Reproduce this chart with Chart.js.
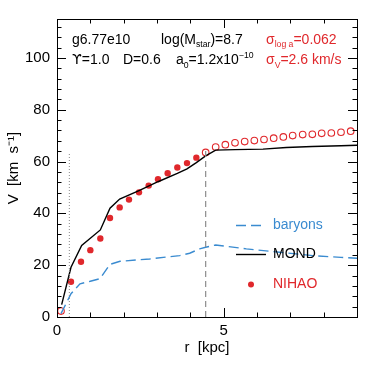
<!DOCTYPE html>
<html>
<head>
<meta charset="utf-8">
<script src="https://cdn.jsdelivr.net/npm/chart.js@4.4.1/dist/chart.umd.min.js"></script>
<style>
html,body{margin:0;padding:0;background:#fff;}
#c{display:block;}
</style>
</head>
<body>
<canvas id="c" width="374" height="374"></canvas>
<script>
// ---- data ----
const mondR = [0.14,0.42,0.74,1.30,1.59,1.88,2.46,3.03,3.61,3.90,4.18,4.46,4.76,5.34,6.18,6.88,7.66,8.52,9.00];
const mondV = [4.8,19.2,27.6,33.6,42.0,45.5,48.8,52.2,55.4,57.2,59.6,62.2,64.4,64.6,64.8,65.4,65.8,66.1,66.3];

const baryR = [0.12,0.42,0.69,1.00,1.29,1.59,1.89,2.78,3.68,3.98,4.28,4.46,4.76,5.68,6.68,7.67,8.52,9.00];
const baryV = [1.3,9.0,12.8,13.8,14.8,20.3,21.5,22.4,23.7,24.6,26.3,26.9,27.8,26.3,25.0,23.7,23.0,22.7];

const nihaoFilledR = [0.42,0.72,1.00,1.30,1.59,1.88,2.16,2.46,2.75,3.03,3.32,3.61,3.90,4.18];
const nihaoFilledV = [13.6,21.3,25.8,30.3,38.2,42.3,45.3,48.1,50.7,53.2,55.5,57.7,59.4,61.5];

const nihaoOpenR = [0.12,4.46,4.76,5.05,5.34,5.63,5.92,6.21,6.50,6.79,7.07,7.37,7.66,7.94,8.23,8.52,8.81];
const nihaoOpenV = [2.3,63.5,65.6,66.5,67.2,67.7,68.1,68.5,69.0,69.5,70.0,70.4,70.5,70.9,71.0,71.3,71.7];

const innerLineR = [0.37,0.37];   // dotted vertical marker
const innerLineV = [0,63.5];
const outerLineR = [4.46,4.46];   // dashed vertical marker
const outerLineV = [0,64.5];

const xTickLabels = [0,5];
const yTickLabels = [0,20,40,60,80,100];
const xMinorStep = 1;
const yMinorStep = 4;

// ---- helpers ----
const pts = (xs, ys) => xs.map((x,i)=>({x:x, y:ys[i]}));
const RED = '#e0282c', BLUE = '#3a8bd0', GRAY = '#8c8c8c';
const FONT = '"Liberation Sans", Arial, sans-serif';

function drawRich(ctx, x, y, parts, color, size){
  ctx.save();
  ctx.fillStyle = color;
  ctx.textBaseline = 'alphabetic';
  ctx.textAlign = 'left';
  let cx = x;
  for (const p of parts){
    let fs = size, dy = 0;
    if (p.s === 'sub'){ fs = size*0.62; dy = 3.5; }
    if (p.s === 'sup'){ fs = size*0.62; dy = -6; }
    ctx.font = fs + 'px ' + (p.f || FONT);
    ctx.fillText(p.t, cx, y + dy);
    cx += ctx.measureText(p.t).width;
  }
  ctx.restore();
}

const framePlugin = {
  id: 'frame',
  afterDraw(chart){
    const {ctx, chartArea: a, scales} = chart;
    const xs = scales.x, ys = scales.y;
    ctx.save();
    ctx.strokeStyle = '#000';
    ctx.lineWidth = 1;
    ctx.strokeRect(a.left+0.5, a.top+0.5, a.right-a.left, a.bottom-a.top);
    ctx.beginPath();
    for (let v = xs.min; v <= xs.max + 1e-9; v += xMinorStep){
      const px = Math.round(xs.getPixelForValue(v)) + 0.5;
      const major = xTickLabels.includes(Math.round(v*1000)/1000);
      const L = major ? 9 : 4.5;
      ctx.moveTo(px, a.bottom); ctx.lineTo(px, a.bottom - L);
      ctx.moveTo(px, a.top); ctx.lineTo(px, a.top + L);
    }
    for (let v = ys.min; v <= ys.max + 1e-9; v += yMinorStep){
      const py = Math.round(ys.getPixelForValue(v)) + 0.5;
      const major = yTickLabels.includes(Math.round(v*1000)/1000);
      const L = major ? 9 : 4.5;
      ctx.moveTo(a.left, py); ctx.lineTo(a.left + L, py);
      ctx.moveTo(a.right, py); ctx.lineTo(a.right - L, py);
    }
    ctx.stroke();

    // annotations
    const s = 14;
    drawRich(ctx, 72, 43.5, [{t:'g6.77e10'}], '#000', s);
    drawRich(ctx, 161, 43.5, [{t:'log(M'},{t:'star',s:'sub'},{t:')=8.7'}], '#000', s);
    drawRich(ctx, 266, 43.5, [{t:'σ'},{t:'log a',s:'sub'},{t:'=0.062'}], RED, s);
    drawRich(ctx, 72, 64, [{t:'ϒ', f:'"DejaVu Sans", sans-serif'},{t:'=1.0'}], '#000', s);
    drawRich(ctx, 123, 64, [{t:'D=0.6'}], '#000', s);
    drawRich(ctx, 176, 64, [{t:'a'},{t:'0',s:'sub'},{t:'=1.2x10'},{t:'−10',s:'sup'}], '#000', s);
    drawRich(ctx, 266, 64, [{t:'σ'},{t:'V',s:'sub'},{t:'=2.6 km/s'}], RED, s);

    // legend
    ctx.lineWidth = 1.4;
    ctx.strokeStyle = BLUE;
    ctx.setLineDash([10,5]);
    ctx.beginPath(); ctx.moveTo(236, 225.5); ctx.lineTo(266, 225.5); ctx.stroke();
    ctx.setLineDash([]);
    ctx.strokeStyle = '#000';
    ctx.beginPath(); ctx.moveTo(236, 254.5); ctx.lineTo(266, 254.5); ctx.stroke();
    ctx.fillStyle = RED;
    ctx.beginPath(); ctx.arc(251, 284.5, 3, 0, Math.PI*2); ctx.fill();
    ctx.font = '14px ' + FONT;
    ctx.textBaseline = 'middle';
    ctx.fillStyle = BLUE; ctx.fillText('baryons', 273, 225);
    ctx.fillStyle = '#000'; ctx.fillText('MOND', 273, 254);
    ctx.fillStyle = RED; ctx.fillText('NIHAO', 273, 284);
    ctx.restore();
  }
};

new Chart(document.getElementById('c'), {
  type: 'scatter',
  data: {
    datasets: [
      {label:'dotted', type:'line', data: pts(innerLineR, innerLineV), borderColor:'#888', borderWidth:1, borderDash:[1,2], pointRadius:0, fill:false},
      {label:'dashed', type:'line', data: pts(outerLineR, outerLineV), borderColor:GRAY, borderWidth:1.2, borderDash:[6,4], pointRadius:0, fill:false},
      {label:'baryons', type:'line', data: pts(baryR, baryV), borderColor:BLUE, borderWidth:1.4, borderDash:[10,5], pointRadius:0, fill:false, tension:0},
      {label:'MOND', type:'line', data: pts(mondR, mondV), borderColor:'#000', borderWidth:1.4, pointRadius:0, fill:false, tension:0},
      {label:'NIHAO', data: pts(nihaoFilledR, nihaoFilledV), pointRadius:3.2, pointBackgroundColor:RED, pointBorderColor:RED, pointBorderWidth:0},
      {label:'NIHAO open', data: pts(nihaoOpenR, nihaoOpenV), pointRadius:3.3, pointBackgroundColor:'rgba(0,0,0,0)', pointBorderColor:RED, pointBorderWidth:1.1}
    ]
  },
  options: {
    responsive: false,
    animation: false,
    devicePixelRatio: 1,
    layout: {padding: {left:0, top:19, right:17, bottom:0}},
    plugins: {legend:{display:false}, tooltip:{enabled:false}},
    scales: {
      x: {
        type:'linear', min:0, max:9,
        afterBuildTicks: s => { s.ticks = xTickLabels.map(v=>({value:v})); },
        afterFit: s => { s.height = 57; },
        grid: {display:false, drawTicks:false},
        border: {display:false},
        ticks: {color:'#000', font:{size:15, family:FONT}, padding:5, maxRotation:0, autoSkip:false},
        title: {display:true, text:'r  [kpc]', color:'#000', font:{size:15, family:FONT}, padding:{top:0,bottom:17}}
      },
      y: {
        type:'linear', min:0, max:115,
        afterBuildTicks: s => { s.ticks = yTickLabels.map(v=>({value:v})); },
        afterFit: s => { s.width = 57; },
        grid: {display:false, drawTicks:false},
        border: {display:false},
        ticks: {color:'#000', font:{size:15, family:FONT}, padding:7, autoSkip:false},
        title: {display:true, text:'V  [km  s⁻¹]', color:'#000', font:{size:15, family:FONT}, padding:{top:5,bottom:0}}
      }
    }
  },
  plugins: [framePlugin]
});
</script>
</body>
</html>
